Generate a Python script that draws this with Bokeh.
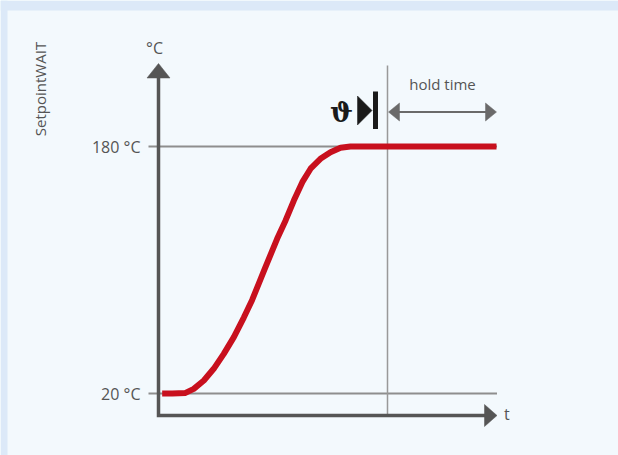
import numpy as np
from bokeh.plotting import figure
from bokeh.models import Range1d
from bokeh.core.properties import value
from bokeh.embed import file_html
from bokeh.resources import INLINE

# ---------------- data ----------------
time = [1.6, 6.0, 11.8, 15.4, 19.8, 24.1, 28.5, 32.9, 37.25, 40.9, 46.3, 51.8,
        55.5, 59.1, 62.8, 66.4, 70.7, 75.1, 79.5, 83.8, 147.6]
temp = [20.0, 20.0, 20.4, 23.0, 28.4, 36.0, 45.7, 56.5, 69.2, 80.6, 100.4, 120.2,
        132.1, 145.0, 156.9, 165.6, 172.0, 176.3, 179.2, 180.0, 180.0]
tick_values = [20, 180]
tick_labels = ["20 °C", "180 °C"]
hold_start = 100.0
hold_end = 147.6
y_title = "SetpointWAIT"
y_unit = "°C"
x_title = "t"
hold_label = "hold time"
symbol = "ϑ"

# ---------------- scale helpers (pixels per data unit) ----------------
SX = 2.29
SY = 1.54375
def dx(px):
    return px / SX
def dy(px):
    return px / SY

W, H = 618, 455
x0 = -dx(158)
y_top = tick_values[0] + dy(393)
y_ax = tick_values[0] - dy(22)          # level of the time axis

INNER = "#f3f9fd"
OUTER = "#dce9f8"
AXIS = "#555555"
GRID = "#8e8e8e"
TEXT = "#555555"
RED = "#c8101e"
FONT = value("Open Sans")

p = figure(width=W, height=H, output_backend="svg", toolbar_location=None,
           x_range=Range1d(x0, x0 + dx(W)), y_range=Range1d(y_top - dy(H), y_top),
           x_axis_type=None, y_axis_type=None, min_border=0,
           background_fill_color=INNER, border_fill_color=INNER,
           outline_line_color=None)
p.grid.visible = False

# outer frame strips (top and left)
p.quad(left=[x0, x0], right=[x0 + dx(W), x0 + dx(7)],
       bottom=[y_top - dy(10), y_top - dy(H)], top=[y_top, y_top],
       fill_color=OUTER, line_color=None)

# reference lines
x_axis_tip = hold_end + dx(0.5)
for tv in tick_values:
    p.line([-dx(10), x_axis_tip], [tv, tv], line_color=GRID, line_width=1.8)
p.line([hold_start, hold_start], [y_ax, tick_values[0] + dy(328)],
       line_color="#999999", line_width=1.5)

# axes with arrow heads
y_tip = tick_values[0] + dy(330)
p.line([0, 0, x_axis_tip - dx(12)], [y_tip - dy(14), y_ax, y_ax],
       line_color=AXIS, line_width=3.5, line_join="miter")
p.patch([-dx(11.5), dx(11.5), 0], [y_tip - dy(14.5), y_tip - dy(14.5), y_tip],
        fill_color=AXIS, line_color=AXIS, line_width=0.5)
p.patch([x_axis_tip - dx(12.5), x_axis_tip - dx(12.5), x_axis_tip],
        [y_ax - dy(11), y_ax + dy(11), y_ax],
        fill_color=AXIS, line_color=AXIS, line_width=0.5)

# setpoint curve
p.line(time, temp, line_color=RED, line_width=6, line_join="round")

# hold time arrow
y_hold = tick_values[1] + dy(34.5)
HC = "#6a6a6a"
p.line([hold_start + dx(8), hold_end - dx(8)], [y_hold, y_hold], line_color=HC, line_width=2)
p.patch([hold_start + dx(1), hold_start + dx(12), hold_start + dx(12)],
        [y_hold, y_hold + dy(9), y_hold - dy(9)], fill_color=HC, line_color=HC, line_width=0.5)
p.patch([hold_end, hold_end - dx(11), hold_end - dx(11)],
        [y_hold, y_hold + dy(9), y_hold - dy(9)], fill_color=HC, line_color=HC, line_width=0.5)

# start symbol: theta + triangle + bar
p.patch([hold_start - dx(30), hold_start - dx(30), hold_start - dx(15.5)],
        [y_hold + dy(16), y_hold - dy(13), y_hold + dy(1.5)],
        fill_color="#1a1a1a", line_color="#1a1a1a", line_width=0.5)
p.line([hold_start - dx(12), hold_start - dx(12)], [y_hold + dy(20.5), y_hold - dy(17)],
       line_color="#1a1a1a", line_width=5)
p.text(x=[hold_start - dx(46)], y=[y_hold], text=[symbol],
       text_font=value("DejaVu Serif"),
       text_font_style="bold", text_font_size="27px", text_color="#1a1a1a",
       text_align="center", text_baseline="middle")

# texts
p.text(x=[-dx(18)] * len(tick_values), y=tick_values, text=tick_labels, text_font=FONT,
       text_font_size="16px", text_color=TEXT, text_align="right", text_baseline="middle")
p.text(x=[-dx(4)], y=[tick_values[0] + dy(345.5)], text=[y_unit], text_font=FONT,
       text_font_size="16px", text_color=TEXT, text_align="center", text_baseline="middle")
p.text(x=[x_axis_tip + dx(7)], y=[y_ax + dy(2)], text=[x_title], text_font=FONT,
       text_font_size="16px", text_color=TEXT, text_align="left", text_baseline="middle")
p.text(x=[(hold_start + hold_end) / 2 + dx(0.5)], y=[y_hold + dy(28)], text=[hold_label],
       text_font=FONT, text_font_size="15px", text_color=TEXT,
       text_align="center", text_baseline="middle")
p.text(x=[-dx(119)], y=[tick_values[0] + dy(304.5)], text=[y_title], text_font=FONT,
       text_font_size="15px", text_color=TEXT, angle=np.pi / 2,
       text_align="center", text_baseline="middle")

open("out.html", "w").write(file_html(p, INLINE))
